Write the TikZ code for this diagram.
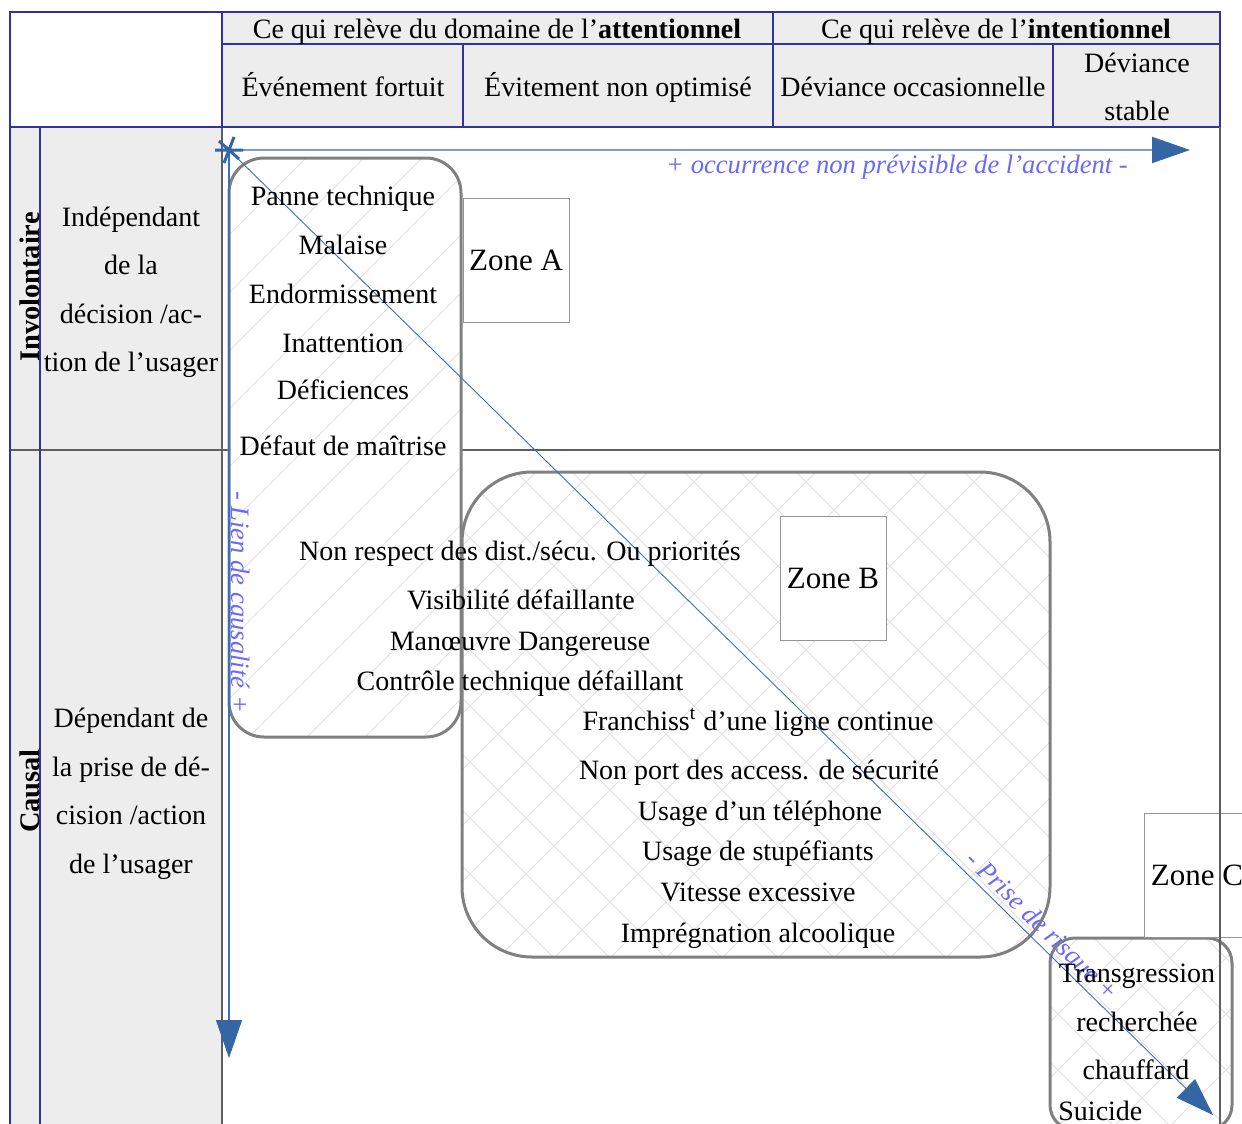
\documentclass[tikz,border=0pt]{standalone}
\usepackage{fontspec}
\setmainfont{Liberation Serif}
\usetikzlibrary{arrows.meta}
\definecolor{tabnavy}{RGB}{50,50,160}
\definecolor{gridgray}{RGB}{95,95,95}
\definecolor{boxgray}{RGB}{128,128,128}
\definecolor{zonegray}{RGB}{150,150,150}
\definecolor{hdrfill}{RGB}{237,237,237}
\definecolor{hatchgray}{RGB}{224,224,224}
\definecolor{headblue}{RGB}{52,101,164}
\definecolor{lineblue}{RGB}{60,110,190}
\definecolor{lightblue}{RGB}{125,155,205}
\definecolor{lblblue}{RGB}{105,105,250}
\tikzset{
  txt/.style={font=\fontsize{14pt}{17pt}\selectfont, inner sep=0pt, anchor=base},
  bold/.style={font=\fontsize{14.2pt}{17pt}\selectfont\bfseries, inner sep=0pt},
  zonebox/.style={draw=zonegray, line width=0.5pt, fill=white, inner sep=0pt,
    font=\fontsize{15.5pt}{18pt}\selectfont, minimum width=53pt, minimum height=62pt},
  lbl/.style={font=\fontsize{13.3pt}{16pt}\selectfont\itshape, text=lblblue, inner sep=0pt},
  navyline/.style={draw=tabnavy, line width=0.55pt},
  gridline/.style={draw=gridgray, line width=0.6pt},
  roundbox/.style={draw=boxgray, line width=1.5pt},
  hatch/.style={draw=hatchgray, line width=0.4pt},
  harrow/.style={draw=lightblue, line width=1pt, -{Triangle[length=19pt,width=13pt,color=headblue]}},
  varrow/.style={draw=lineblue, line width=0.55pt, -{Triangle[length=19pt,width=13pt,color=headblue]}},
  darrow/.style={draw=lineblue, line width=0.45pt, -{Triangle[length=19pt,width=13pt,color=headblue]}},
}
\begin{document}
\begin{tikzpicture}[x=0.5pt,y=-0.5pt]
\useasboundingbox (0,0) rectangle (1242,1124);
\clip (0,0) rectangle (1242,1124);
\fill[white] (0,0) rectangle (1242,1124);
% fills
\fill[hdrfill] (222,12) rectangle (1220,127);
\fill[hdrfill] (10,127) rectangle (222,1124);
% grid
\draw[gridline] (222,127) -- (222,1124);
\draw[gridline] (10,450) -- (1220,450);
\draw[navyline] (10,1124) -- (10,12) -- (1220,12) -- (1220,127);
\draw[navyline] (10,127) -- (1220,127);
\draw[navyline] (222,12) -- (222,127);
\draw[navyline] (222,44) -- (1220,44);
\draw[navyline] (773,12) -- (773,127);
\draw[navyline] (463,44) -- (463,127);
\draw[navyline] (1053,44) -- (1053,127);
\draw[navyline] (40,127) -- (40,1124);

% header texts
\node[txt] (h1) at (497,39) {Ce qui relève du domaine de l’\textbf{attentionnel}};
\node[txt] (h2) at (996,39) {Ce qui relève de l’\textbf{intentionnel}};
\node[txt] (c1) at (343,96) {Événement fortuit};
\node[txt] (c2) at (618,96) {Évitement non optimisé};
\node[txt] (c3) at (913,96) {Déviance occasionnelle};
\node[txt] (c4a) at (1137,72) {Déviance};
\node[txt] (c4b) at (1137,120) {stable};

% row labels
\node[bold, rotate=90] (invol) at (30,287) {Involontaire};
\node[bold, rotate=90] (causal) at (30,791) {Causal};
\node[txt] (r1a) at (131,226) {Indépendant};
\node[txt] (r1b) at (131,274) {de la};
\node[txt] (r1c) at (131,323) {décision /ac-};
\node[txt] (r1d) at (131,371) {tion de l’usager};
\node[txt] (r2a) at (131,727) {Dépendant de};
\node[txt] (r2b) at (131,776) {la prise de dé-};
\node[txt] (r2c) at (131,824) {cision /action};
\node[txt] (r2d) at (131,873) {de l’usager};

% box 1
\fill[white, rounded corners=17.5pt] (229,158) rectangle (461,737);
\begin{scope}
  \clip[rounded corners=17.5pt] (229,158) rectangle (461,737);
  \foreach \c in {0,58,...,2500} \draw[hatch] (\c,0) -- (\c-1300,1300);
\end{scope}
\draw[roundbox, rounded corners=17.5pt] (229,158) rectangle (461,737);

% box 2
\fill[white, rounded corners=35pt] (462,472) rectangle (1050,957);
\begin{scope}
  \clip[rounded corners=35pt] (462,472) rectangle (1050,957);
  \foreach \c in {0,56,...,2500} \draw[hatch] (\c,0) -- (\c-1300,1300);
  \foreach \c in {-1300,-1244,...,1300} \draw[hatch] (\c,0) -- (\c+1300,1300);
\end{scope}
\draw[roundbox, rounded corners=35pt] (462,472) rectangle (1050,957);

% box 3
\fill[white, rounded corners=12.5pt] (1050,938) rectangle (1232,1130);
\begin{scope}
  \clip[rounded corners=12.5pt] (1050,938) rectangle (1232,1130);
  \foreach \c in {0,56,...,2500} \draw[hatch] (\c,0) -- (\c-1300,1300);
  \foreach \c in {-1300,-1244,...,1300} \draw[hatch] (\c,0) -- (\c+1300,1300);
\end{scope}
\draw[roundbox, rounded corners=12.5pt] (1050,938) rectangle (1232,1130);

% zones
\node[zonebox] (zA) at (516,260.5) {Zone A};
\node[zonebox] (zB) at (833,578) {Zone B};
\node[zonebox] (zC) at (1197,875) {Zone C};

% arrows
\coordinate (O) at (229,150);
\coordinate (H) at (1190,150);
\coordinate (V) at (229,1058);
\coordinate (D) at (1213,1115);
\draw[harrow] (O) -- (H);
\draw[varrow] (O) -- (V);
\draw[darrow] (O) -- (D);
\draw[headblue, line width=1.5pt] (O) +(-14,0) -- +(14,0) +(-5,13) -- +(5,-13) +(-10,-9) -- +(10,9);

\node[lbl] (occ) at (897,167) {+ occurrence non prévisible de l’accident -};
\node[lbl, rotate=-90] (lien) at (241,602) {- Lien de causalité +};
\node[lbl, rotate=-44.4] (prise) at (1041,927) {- Prise de risque +};

% box 1 items
\node[txt] (a1) at (343,205) {Panne technique};
\node[txt] (a2) at (343,254) {Malaise};
\node[txt] (a3) at (343,303) {Endormissement};
\node[txt] (a4) at (343,352) {Inattention};
\node[txt] (a5) at (343,399) {Déficiences};
\node[txt] (a6) at (343,455) {Défaut de maîtrise};

% box 2 items
\node[txt] (b1) at (520,560) {Non respect des dist./sécu. Ou priorités};
\node[txt] (b2) at (521,609) {Visibilité défaillante};
\node[txt] (b3) at (520,650) {Manœuvre Dangereuse};
\node[txt] (b4) at (520,690) {Contrôle technique défaillant};
\node[txt] (b5) at (758,730) {Franchiss\textsuperscript{t} d’une ligne continue};
\node[txt] (b6) at (759,779) {Non port des access. de sécurité};
\node[txt] (b7) at (760,820) {Usage d’un téléphone};
\node[txt] (b8) at (758,860) {Usage de stupéfiants};
\node[txt] (b9) at (758,901) {Vitesse excessive};
\node[txt] (b10) at (758,942) {Imprégnation alcoolique};

% box 3 items
\node[txt] (t1) at (1137,982) {Transgression};
\node[txt] (t2) at (1137,1031) {recherchée};
\node[txt] (t3) at (1136,1079) {chauffard};
\node[txt, anchor=base west] (t4) at (1058,1120) {Suicide};

% right border on top
\draw[gridline] (1220,127) -- (1220,1124);
\end{tikzpicture}
\end{document}
